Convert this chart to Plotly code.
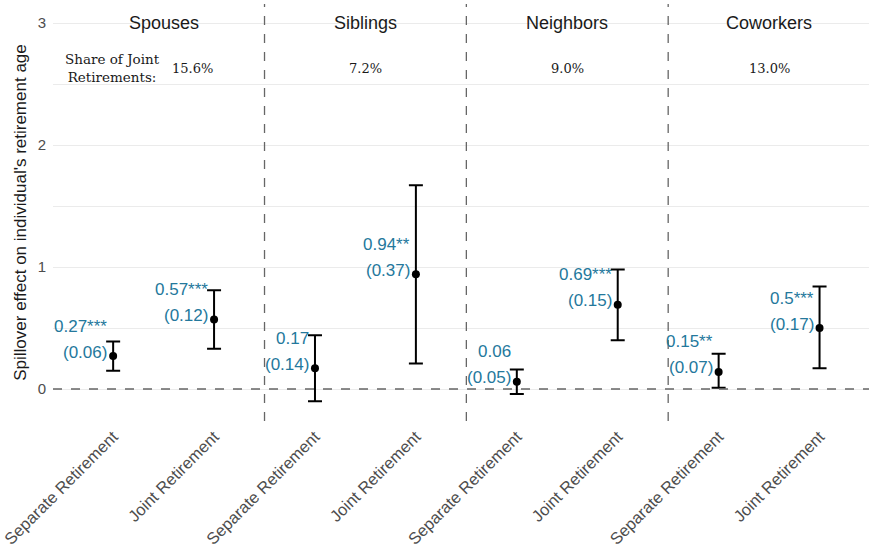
import plotly.graph_objects as go

groups = ["Spouses", "Siblings", "Neighbors", "Coworkers"]
share_joint = ["15.6%", "7.2%", "9.0%", "13.0%"]
tick_labels = ["Separate Retirement", "Joint Retirement"] * 4
coef = [0.27, 0.57, 0.17, 0.94, 0.06, 0.69, 0.14, 0.50]
ci_low = [0.15, 0.33, -0.10, 0.21, -0.04, 0.40, 0.01, 0.17]
ci_high = [0.39, 0.81, 0.44, 1.67, 0.16, 0.98, 0.29, 0.84]
coef_text = ["0.27***", "0.57***", "0.17", "0.94**", "0.06", "0.69***", "0.15**", "0.5***"]
se_text = ["(0.06)", "(0.12)", "(0.14)", "(0.37)", "(0.05)", "(0.15)", "(0.07)", "(0.17)"]

xpos = list(range(1, len(coef) + 1))
SANS = "Liberation Sans, Arial, sans-serif"
SERIF = "DejaVu Serif, serif"
LBL = "#24789c"

fig = go.Figure()
fig.add_trace(go.Scatter(
    x=xpos, y=coef, mode="markers",
    marker=dict(color="black", size=8),
    error_y=dict(type="data", symmetric=False,
                 array=[h - c for h, c in zip(ci_high, coef)],
                 arrayminus=[c - l for l, c in zip(ci_low, coef)],
                 color="black", thickness=2, width=7),
    showlegend=False, hoverinfo="skip"))

ann = []
for x, c, ct, st in zip(xpos, coef, coef_text, se_text):
    ann.append(dict(x=x, y=c, text=st, xanchor="right", yanchor="middle",
                    xshift=-4, yshift=4, showarrow=False,
                    font=dict(family=SANS, size=17, color=LBL)))
    ann.append(dict(x=x, y=c, text=ct, xanchor="right", yanchor="middle",
                    xshift=-4, yshift=30, showarrow=False,
                    font=dict(family=SANS, size=17, color=LBL)))

for i, g in enumerate(groups):
    cx = 2 * i + 1.5
    ann.append(dict(x=cx, y=3, text=g, xanchor="center", yanchor="middle",
                    showarrow=False, font=dict(family=SANS, size=18, color="#1a1a1a")))
    px = cx if i > 0 else 1.79
    ann.append(dict(x=px, y=2.63, text=share_joint[i], xanchor="center", yanchor="middle",
                    showarrow=False, font=dict(family=SERIF, size=13, color="#1a1a1a")))
ann.append(dict(x=0.99, y=2.63, text="Share of Joint<br>Retirements:", xanchor="center",
                yanchor="middle", align="center", showarrow=False,
                font=dict(family=SERIF, size=13.5, color="#1a1a1a")))

shapes = []
for b in [2.5, 4.5, 6.5]:
    shapes.append(dict(type="line", xref="x", yref="paper", x0=b, x1=b, y0=0, y1=1,
                       line=dict(color="#666666", width=1.3, dash="dash")))
shapes.append(dict(type="line", xref="paper", yref="y", x0=0, x1=1, y0=0, y1=0,
                   line=dict(color="#666666", width=1.5, dash="dash")))

fig.update_layout(
    width=877, height=554,
    margin=dict(l=53, r=8, t=4, b=133),
    plot_bgcolor="white", paper_bgcolor="white",
    annotations=ann, shapes=shapes,
    xaxis=dict(range=[0.404, 8.49], tickvals=xpos, ticktext=tick_labels,
               tickangle=-45, showgrid=False, zeroline=False, showline=False,
               ticks="", ticklabelstandoff=2, automargin=False,
               ticklabeloverflow="allow",
               tickfont=dict(family=SANS, size=16.5, color="#4d4d4d")),
    yaxis=dict(range=[-0.262, 3.156], tickvals=[0, 1, 2, 3], showgrid=True,
               gridcolor="#ebebeb", gridwidth=1.2, zeroline=False, showline=False,
               ticks="", ticklabelstandoff=6, automargin=False,
               minor=dict(tickvals=[0.5, 1.5, 2.5], showgrid=True, gridcolor="#ebebeb", gridwidth=1),
               tickfont=dict(family=SANS, size=15, color="#4d4d4d"),
               title=dict(text="Spillover effect on individual's retirement age",
                          font=dict(family=SANS, size=17, color="#1a1a1a"), standoff=6)),
)
fig.write_html("out.html")
